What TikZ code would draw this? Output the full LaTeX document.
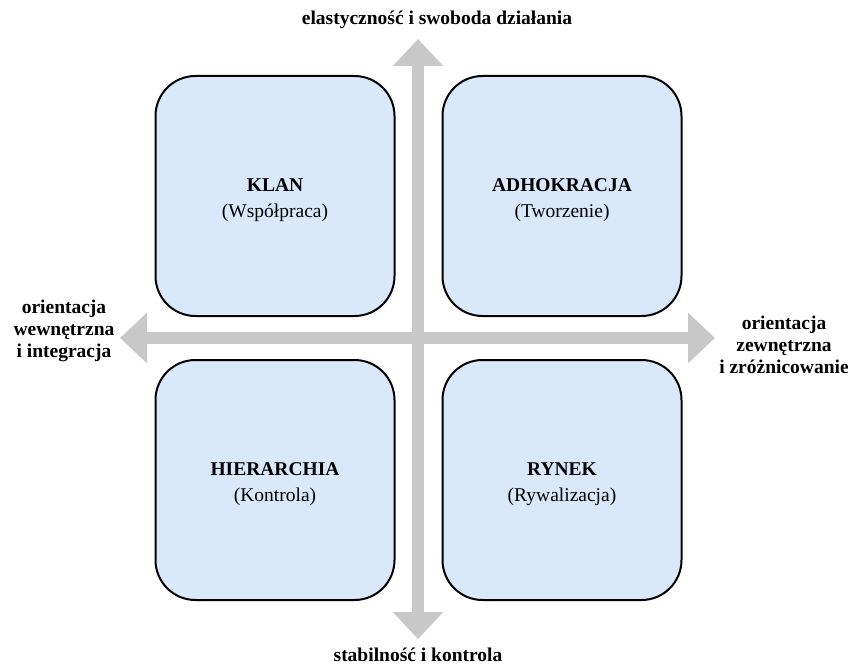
\documentclass[tikz,border=0pt]{standalone}
\usepackage{fontspec}
\setmainfont{Liberation Serif}
\usetikzlibrary{arrows.meta}
\definecolor{axisgray}{HTML}{C8C8C8}
\definecolor{cellblue}{HTML}{DAE8FC}
\tikzset{
  cell/.style={draw=black, line width=2pt, fill=cellblue, rounded corners=40pt,
    minimum width=239pt, minimum height=240pt, inner sep=0pt},
  celltext/.style={align=center, inner sep=0pt, font=\fontsize{19.5}{26}\selectfont},
  axis/.style={draw=axisgray, line width=12pt,
    {Triangle[width=49pt,length=27pt]}-{Triangle[width=49pt,length=27pt]}},
  axislabel/.style={font=\fontsize{19.5}{22}\selectfont\bfseries, align=center, inner sep=0pt}
}
\begin{document}
\begin{tikzpicture}[x=1pt,y=-1pt]
  \useasboundingbox (0,0) rectangle (848,666);
  % axes
  \coordinate (top) at (418,39);
  \coordinate (bottom) at (418,639);
  \coordinate (left) at (120,338);
  \coordinate (right) at (715,338);
  \draw[axis] (left) -- (right);
  \draw[axis] (bottom) -- (top);
  % quadrants
  \node[cell] (klan) at (275,196) {};
  \node[cell] (adhok) at (562,196) {};
  \node[cell] (hier) at (275,480) {};
  \node[cell] (rynek) at (562,480) {};
  \node[celltext] (klant) at ([yshift=-4pt]klan.center) {\textbf{KLAN}\\(Współpraca)};
  \node[celltext] (adhokt) at ([yshift=-4pt]adhok.center) {\textbf{ADHOKRACJA}\\(Tworzenie)};
  \node[celltext] (hiert) at ([yshift=-4pt]hier.center) {\textbf{HIERARCHIA}\\(Kontrola)};
  \node[celltext] (rynekt) at ([yshift=-4pt]rynek.center) {\textbf{RYNEK}\\(Rywalizacja)};
  % axis labels
  \node[axislabel, anchor=base] (lt) at (437,25) {elastyczność i swoboda działania};
  \node[axislabel, anchor=base] (lb) at (418,661) {stabilność i kontrola};
  \node[axislabel] (ll) at (64,331) {orientacja\\wewnętrzna\\i integracja};
  \node[axislabel] (lr) at (784,345) {orientacja\\zewnętrzna\\i zróżnicowanie};
\end{tikzpicture}
\end{document}
